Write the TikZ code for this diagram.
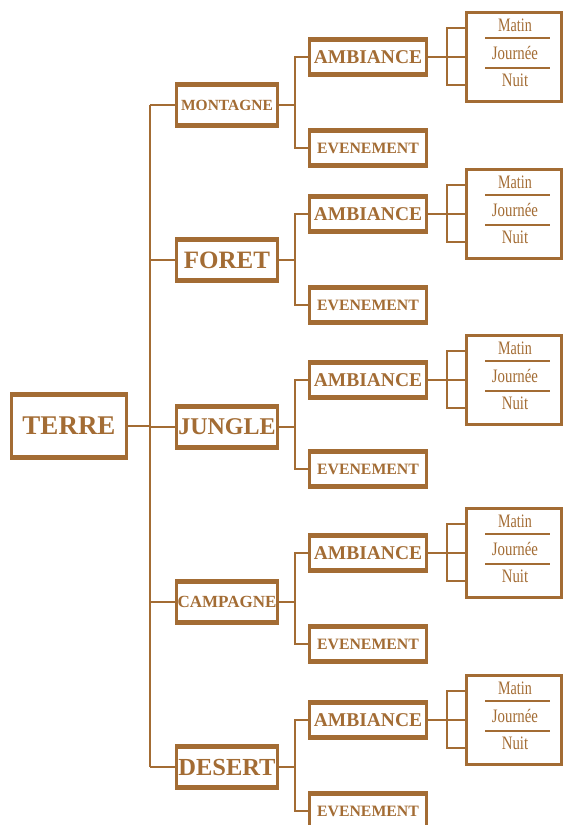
\documentclass[tikz,border=0pt]{standalone}
\usepackage{fontspec}
\setmainfont{Liberation Serif}
\usepackage{graphicx}
\usetikzlibrary{calc}
\definecolor{brn}{RGB}{163,108,52}
\tikzset{
  bx/.style={draw=brn, line width=3.2pt, fill=white, inner sep=0pt, text=brn, font=\bfseries,
    path picture={\fill[brn] (path picture bounding box.north west) rectangle ([yshift=-3.5pt]path picture bounding box.north east);
                  \fill[brn] (path picture bounding box.south west) rectangle ([yshift=3.5pt]path picture bounding box.south east);}},
  rootbox/.style={bx, minimum width=115pt, minimum height=65pt},
  lonebox/.style={bx, minimum width=101pt, minimum height=43pt},
  ambbox/.style={bx, minimum width=117pt, minimum height=37pt},
  subbox/.style={draw=brn, line width=3.4pt, fill=white, inner sep=0pt, minimum width=95pt, minimum height=89pt},
  subtxt/.style={inner sep=0pt, text=brn, font=\fontsize{19}{19}\selectfont},
  ln/.style={draw=brn, line width=1.7pt},
}
\begin{document}
\begin{tikzpicture}[x=1pt,y=-1pt]
\useasboundingbox[fill=white] (0,0) rectangle (565,825);
\node[rootbox] (terre) at (69,426) {\fontsize{27}{27}\selectfont TERRE};
\coordinate (tktop) at (150,105);
\coordinate (tkbot) at (150,767);
\draw[ln] (tktop) -- (tkbot);
\draw[ln] (terre.east) -- (terre.east -| tktop);
\foreach \n/\y/\ya/\ye/\lab/\sz in {m/105/57/148/MONTAGNE/15.5, f/260/214/305/FORET/25, j/427/380/469/JUNGLE/24, c/602/553/644/CAMPAGNE/17, d/767/720/811/DESERT/24.5}{
  \node[lonebox] (\n) at (227,\y) {\fontsize{\sz}{\sz}\selectfont \lab};
  \draw[ln] (tktop |- \n.west) -- (\n.west);
  \node[ambbox] (\n a) at (368,\ya) {\fontsize{19.5}{19.5}\selectfont AMBIANCE};
  \node[ambbox] (\n e) at (368,\ye) {\fontsize{15.8}{15.8}\selectfont EVENEMENT};
  \draw[ln] (\n a.west) -- ++(-13,0) |- (\n e.west);
  \draw[ln] (\n.east) -- ([xshift=-13pt]\n a.west |- \n.east);
  \node[subbox] (\n b) at (514,\ya) {};
  \draw[ln] (\n a.east) -- (\n b.west);
  \draw[ln] ([yshift=29pt]\n b.west) -| ([xshift=-18pt]\n b.west) |- ([yshift=-28pt]\n b.west);
  \node[subtxt] (\n m) at ([xshift=1pt,yshift=32pt]\n b.center) {\scalebox{.74}[1]{Matin}};
  \node[subtxt] (\n j) at ([xshift=1pt,yshift=4pt]\n b.center) {\scalebox{.78}[1]{Journée}};
  \node[subtxt] (\n n) at ([xshift=1pt,yshift=-23pt]\n b.center) {\scalebox{.78}[1]{Nuit}};
  \draw[ln, line width=1.3pt] ([xshift=-29pt,yshift=19pt]\n b.center) -- ++(65,0);
  \draw[ln, line width=1.3pt] ([xshift=-29pt,yshift=-11pt]\n b.center) -- ++(65,0);
}
\end{tikzpicture}
\end{document}
